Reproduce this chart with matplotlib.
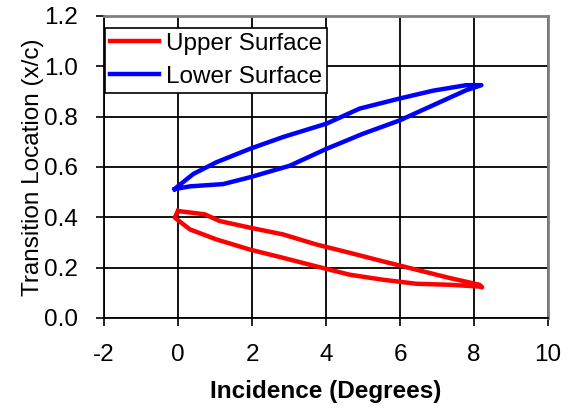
import matplotlib.pyplot as plt

# Transition location over one pitching cycle, upper and lower surface
upper_up_x = [0.0, 0.72, 1.13, 1.94, 2.84, 3.74, 4.64, 5.54, 6.44, 7.34, 8.15, 8.22]
upper_up_y = [0.425, 0.412, 0.385, 0.359, 0.332, 0.292, 0.259, 0.225, 0.192, 0.159, 0.132, 0.122]
upper_dn_x = [8.22, 8.15, 7.34, 6.44, 5.54, 4.64, 3.74, 2.84, 1.94, 1.04, 0.32, -0.09, 0.0]
upper_dn_y = [0.122, 0.125, 0.132, 0.136, 0.152, 0.172, 0.205, 0.239, 0.272, 0.312, 0.352, 0.399, 0.425]

lower_up_x = [-0.09, 0.32, 1.22, 1.94, 3.02, 4.01, 5.0, 5.99, 6.89, 7.79, 8.2]
lower_up_y = [0.512, 0.523, 0.532, 0.559, 0.605, 0.672, 0.732, 0.785, 0.845, 0.905, 0.925]
lower_dn_x = [8.2, 7.79, 6.89, 5.99, 4.91, 4.01, 2.84, 1.94, 1.04, 0.41, -0.04, -0.09]
lower_dn_y = [0.925, 0.925, 0.903, 0.872, 0.832, 0.772, 0.719, 0.672, 0.619, 0.572, 0.519, 0.512]

x_ticks = [-2, 0, 2, 4, 6, 8, 10]
y_ticks = [0.0, 0.2, 0.4, 0.6, 0.8, 1.0, 1.2]

plt.rcParams["font.family"] = ["Liberation Sans", "DejaVu Sans"]

fig = plt.figure(figsize=(5.75, 4.09), dpi=100)
ax = fig.add_axes([0.181, 0.2225, 0.772, 0.7385])

ax.plot(upper_up_x + upper_dn_x, upper_up_y + upper_dn_y,
        color="#ff0000", lw=3.2, solid_joinstyle="round", label="Upper Surface")
ax.plot(lower_up_x + lower_dn_x, lower_up_y + lower_dn_y,
        color="#0000ff", lw=3.2, solid_joinstyle="round", label="Lower Surface")

ax.set_xlim(-2, 10)
ax.set_ylim(0, 1.2)
ax.set_xticks(x_ticks)
ax.set_yticks(y_ticks)
ax.set_xticklabels([str(t) for t in x_ticks])
ax.set_yticklabels([f"{t:.1f}" for t in y_ticks])
ax.tick_params(direction="out", length=6, width=1.2, labelsize=17.5)
ax.tick_params(axis="x", pad=13)
ax.tick_params(axis="y", pad=13)
ax.grid(True, color="black", lw=1.3)
ax.set_axisbelow(True)

for side in ("left", "bottom"):
    ax.spines[side].set_color("black")
    ax.spines[side].set_linewidth(1.3)
for side in ("top", "right"):
    ax.spines[side].set_color("#808080")
    ax.spines[side].set_linewidth(2)

ax.set_xlabel("Incidence (Degrees)", fontsize=17.5, fontweight="bold", labelpad=10)
ax.set_ylabel("Transition Location (x/c)", fontsize=17.5, labelpad=0)

leg = ax.legend(loc="upper left", bbox_to_anchor=(0.003, 0.96), fontsize=17.5,
                fancybox=False, framealpha=1, edgecolor="black",
                handlelength=2.0, handletextpad=0.3, borderpad=0.2,
                labelspacing=0.45, borderaxespad=0)
leg.get_frame().set_linewidth(1.2)

fig.savefig("out.png", dpi=100)
